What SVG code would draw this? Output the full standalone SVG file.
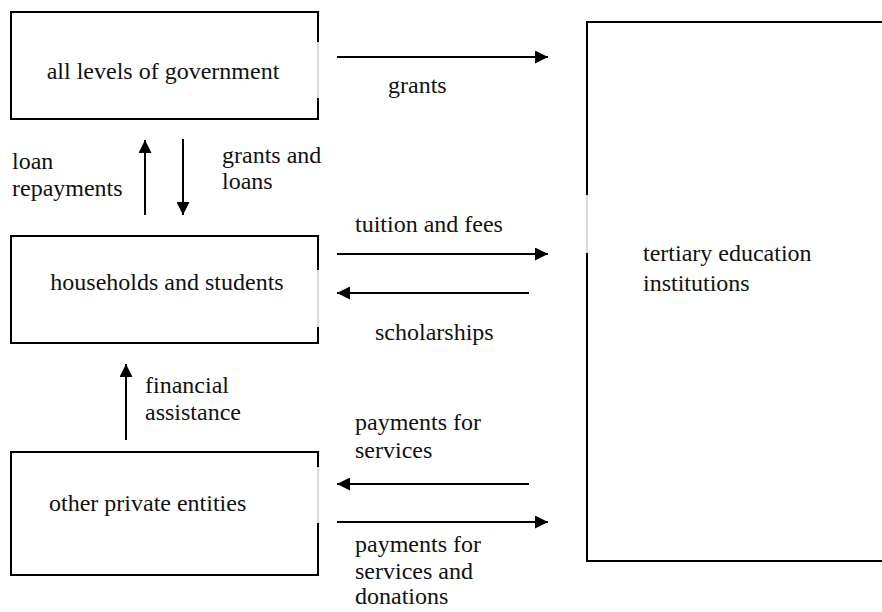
<svg xmlns="http://www.w3.org/2000/svg" width="882" height="612" viewBox="0 0 882 612">
<style>
.box{fill:none;stroke:#000;stroke-width:2}
.gap{stroke:#b8b8b8;stroke-width:1;fill:none}
.t{font-family:"Liberation Serif","Times New Roman",serif;font-size:24px;fill:#111}
.c{stroke:#000;stroke-width:2;fill:none;marker-end:url(#ah)}
</style>
<defs>
<marker id="ah" viewBox="0 0 10 10" refX="10" refY="5" markerWidth="7.5" markerHeight="6.5" orient="auto" markerUnits="strokeWidth">
<path d="M0,0 L10,5 L0,10 Z" fill="#000"/>
</marker>
</defs>
<rect width="882" height="612" fill="#fff"/>
<g id="gov">
<path class="box" d="M318,42 V12 H11 V119 H318 V98"/>
<path class="gap" d="M318,42 V98"/>
<text class="t" x="163" y="79" text-anchor="middle">all levels of government</text>
</g>
<g id="households">
<path class="box" d="M318,270 V236 H11 V343 H318 V327"/>
<path class="gap" d="M318,270 V327"/>
<text class="t" x="167" y="290" text-anchor="middle">households and students</text>
</g>
<g id="private">
<path class="box" d="M318,467 V452 H11 V575 H318 V523"/>
<path class="gap" d="M318,467 V523"/>
<text class="t" x="49" y="511">other private entities</text>
</g>
<g id="tertiary">
<path class="box" d="M890,22 H587 V195 M587,253 V561 H890"/>
<path class="gap" d="M587,195 V253"/>
<text class="t" x="643" y="261">tertiary education</text>
<text class="t" x="643" y="291">institutions</text>
</g>
<g id="connectors">
<line class="c" x1="337" y1="57" x2="548" y2="57"/>
<line class="c" x1="145" y1="215" x2="145" y2="140"/>
<line class="c" x1="183" y1="139" x2="183" y2="215"/>
<line class="c" x1="337" y1="254" x2="548" y2="254"/>
<line class="c" x1="529" y1="293" x2="337" y2="293"/>
<line class="c" x1="126" y1="440" x2="126" y2="364"/>
<line class="c" x1="529" y1="484" x2="337" y2="484"/>
<line class="c" x1="337" y1="522" x2="548" y2="522"/>
</g>
<g id="labels">
<text class="t" x="388" y="93">grants</text>
<text class="t" x="12" y="169">loan</text>
<text class="t" x="12" y="196">repayments</text>
<text class="t" x="222" y="163">grants and</text>
<text class="t" x="222" y="189">loans</text>
<text class="t" x="355" y="232">tuition and fees</text>
<text class="t" x="375" y="340">scholarships</text>
<text class="t" x="145" y="393">financial</text>
<text class="t" x="145" y="420">assistance</text>
<text class="t" x="355" y="430">payments for</text>
<text class="t" x="355" y="458">services</text>
<text class="t" x="355" y="552">payments for</text>
<text class="t" x="355" y="579">services and</text>
<text class="t" x="355" y="604">donations</text>
</g>
</svg>
